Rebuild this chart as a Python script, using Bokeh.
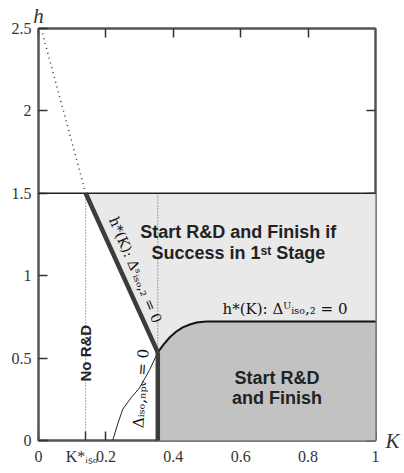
import numpy as np
from bokeh.plotting import figure
from bokeh.models import LinearAxis, FixedTicker, Range1d
from bokeh.core.properties import value
from bokeh.embed import file_html
from bokeh.resources import INLINE

# ---------------- data ----------------
x_ticks = [0, 0.14, 0.2, 0.4, 0.6, 0.8, 1.0]
x_tick_labels = ["0", "K*ᵢₛₒ\u00a0\u00a0", "0.2", "0.4", "0.6", "0.8", "1"]
y_ticks = [0, 0.5, 1.0, 1.5, 2.0, 2.5]
y_tick_labels = ["0", "0.5", "1", "1.5", "2", "2.5"]
top_ticks = [0, 0.2, 0.4, 0.6, 0.8]
top_tick_labels = ["h", "", "", "", ""]
right_ticks = [0, 0.5, 1.0, 1.5, 2.0]
right_tick_labels = ["K", "", "", "", ""]

K_star = 0.14      # K*_iso
K_hat = 0.354      # kink of boundaries
h_bar = 1.5        # upper bound for h

# h^*(K): Delta^S_iso,2 = 0  (dotted extension + thick part)
dotted_K = [0.012, 0.14]
dotted_h = [2.47, 1.5]
s_K = [0.14, 0.354]
s_h = [1.5, 0.535]
# thick vertical boundary K = K_hat
v_K = [0.354, 0.354]
v_h = [0.0, 0.535]
# h_*(K): Delta^U_iso,2 = 0
u_K = [0.354, 0.372, 0.389, 0.408, 0.428, 0.449, 0.469, 0.49, 0.5, 1.0]
u_h = [0.535, 0.585, 0.625, 0.66, 0.686, 0.704, 0.716, 0.721, 0.722, 0.722]
# Delta_iso,NPV = 0
npv_K = [0.22, 0.235, 0.25, 0.275, 0.30, 0.33, 0.354]
npv_h = [0.0, 0.1, 0.19, 0.26, 0.32, 0.43, 0.535]

region_text = ["Start R&D and Finish if", "Success in 1ˢᵗ Stage",
               "Start R&D", "and Finish"]

# ---------------- figure ----------------
p = figure(width=402, height=470, output_backend="svg", toolbar_location=None,
           x_range=Range1d(0, 1), y_range=Range1d(0, 2.5),
           min_border_left=38, min_border_right=24, min_border_top=28,
           min_border_bottom=30)
p.grid.visible = False
p.outline_line_color = "#555555"
p.outline_line_width = 2
p.background_fill_color = "white"

def setup(ax, ticks, labels):
    ax.ticker = FixedTicker(ticks=ticks)
    ax.major_label_overrides = {t: l for t, l in zip(ticks, labels)}
    ax.major_label_text_color = "#333333"

setup(p.xaxis[0], x_ticks, x_tick_labels)
setup(p.yaxis[0], y_ticks, y_tick_labels)
for ax in (p.xaxis[0], p.yaxis[0]):
    ax.major_label_text_font = "Liberation Serif"
    ax.major_label_text_font_size = "16px"
    ax.major_label_standoff = 7

top = LinearAxis()
setup(top, top_ticks, top_tick_labels)
top.major_label_text_font = "Liberation Serif"
top.major_label_text_font_style = "italic"
top.major_label_text_font_size = "21px"
top.major_label_standoff = 1
p.add_layout(top, "above")

right = LinearAxis()
setup(right, right_ticks, right_tick_labels)
right.major_label_text_font = "Liberation Serif"
right.major_label_text_font_style = "italic"
right.major_label_text_font_size = "21px"
right.major_label_standoff = 10
p.add_layout(right, "right")

for ax in p.axis:
    ax.major_tick_in = 9
    ax.major_tick_out = 0
    ax.minor_tick_in = 0
    ax.minor_tick_out = 0
    ax.axis_line_width = 2
    ax.axis_line_color = "#555555"
    ax.major_tick_line_color = "#333333"
    ax.major_tick_line_width = 1.5

# ---------------- regions ----------------
light_K = [s_K[0], 1.0] + u_K[::-1]
light_h = [h_bar, h_bar] + u_h[::-1]
dark_K = [K_hat, 1.0] + u_K[::-1]
dark_h = [0.0, 0.0] + u_h[::-1]

p.patch(light_K, light_h, fill_color="#e9e9e9", line_color=None, level="overlay")
p.patch(dark_K, dark_h, fill_color="#c2c2c2", line_color=None, level="overlay")

# ---------------- lines ----------------
p.line([0, 1], [h_bar, h_bar], line_color="#222222", line_width=1.5, level="overlay")
p.line(dotted_K, dotted_h, line_color="#333333", line_width=1.5, line_dash="1 4", level="overlay")
p.line([K_star, K_star], [0, h_bar], line_color="#555555", line_width=1, line_dash="1 2", level="overlay")
p.line([K_hat, K_hat], [0, h_bar], line_color="#555555", line_width=1, line_dash="1 2", level="overlay")
p.line(npv_K, npv_h, line_color="#222222", line_width=1, level="overlay")
p.line(u_K, u_h, line_color="#111111", line_width=2, level="overlay")
p.line(s_K, s_h, line_color="#3c3c3c", line_width=4.5, level="overlay")
p.line(v_K, v_h, line_color="#3c3c3c", line_width=4.5, level="overlay")

# ---------------- in-plot texts ----------------
sans = value("Liberation Sans")
serif = value("DejaVu Serif")
p.text(x=[0.593, 0.593], y=[1.268, 1.14], text=region_text[:2],
       text_font=sans, text_font_style="bold", text_font_size="18px",
       text_color="#222222", text_align="center", text_baseline="middle", level="overlay")
p.text(x=[0.708, 0.708], y=[0.382, 0.255], text=region_text[2:],
       text_font=sans, text_font_style="bold", text_font_size="18px",
       text_color="#222222", text_align="center", text_baseline="middle", level="overlay")
p.text(x=[K_star], y=[0.53], text=["No R&D"], angle=90, angle_units="deg",
       text_font=sans, text_font_style="bold", text_font_size="15px",
       text_color="#222222", text_align="center", text_baseline="middle", level="overlay")
p.text(x=[0.546], y=[0.80], text=["h*(K): Δᵁᵢₛₒ,₂ = 0"],
       text_font=serif, text_font_size="15px", text_color="#111111",
       text_align="left", text_baseline="middle", level="overlay")
p.text(x=[0.288], y=[1.035], text=["h*(K): Δˢᵢₛₒ,₂ = 0"], angle=-67, angle_units="deg",
       text_font=serif, text_font_size="14px", text_color="#111111",
       text_align="center", text_baseline="middle", level="overlay")
p.text(x=[0.304], y=[0.316], text=["Δᵢₛₒ,ₙₚᵥ = 0"], angle=86, angle_units="deg",
       text_font=serif, text_font_size="15px", text_color="#111111",
       text_align="center", text_baseline="middle", level="overlay")

open("out.html", "w").write(file_html(p, INLINE))
